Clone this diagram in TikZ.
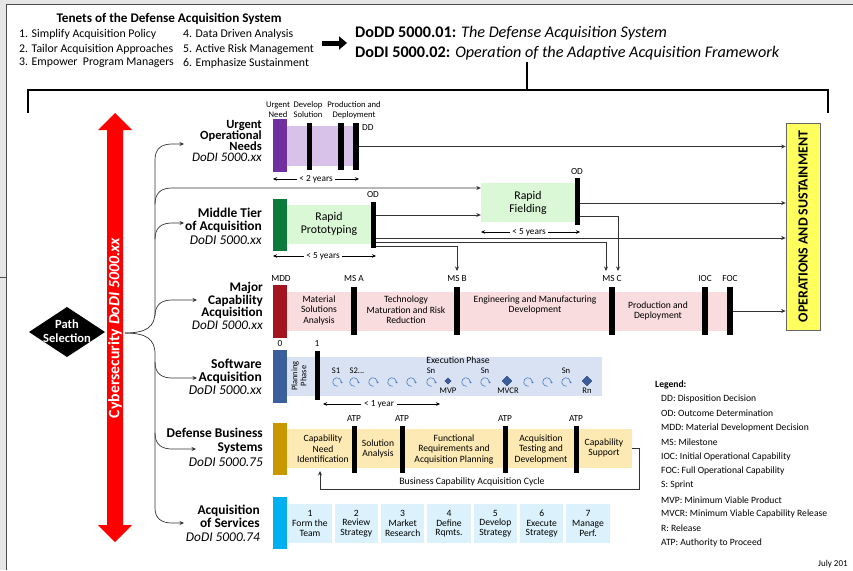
\documentclass[tikz,border=0pt]{standalone}
\usepackage{fontspec}
\setmainfont{Carlito}
\usetikzlibrary{arrows.meta,shapes.geometric,fit,calc}

\definecolor{uonpurple}{HTML}{7030A0}
\definecolor{uonlight}{HTML}{D9C2EA}
\definecolor{mtagreen}{HTML}{0B7A3B}
\definecolor{mtalight}{HTML}{DAF8D6}
\definecolor{mcared}{HTML}{A3141F}
\definecolor{mcalight}{HTML}{F9DCDD}
\definecolor{swblue}{HTML}{3A5F9C}
\definecolor{swlight}{HTML}{D9E2F2}
\definecolor{dbsgold}{HTML}{C99700}
\definecolor{dbslight}{HTML}{FDE9B3}
\definecolor{svccyan}{HTML}{00B0F0}
\definecolor{svclight}{HTML}{DBF2FC}
\definecolor{osyellow}{HTML}{FFFF5E}
\definecolor{sprintblue}{HTML}{4A7CC4}
\definecolor{framegray}{HTML}{E6E6E6}

\tikzset{
  conn/.style={draw=black!80, line width=0.7pt},
  tip/.style={-{Stealth[length=4.5pt,width=4pt]}},
  spanarrow/.style={draw=black, line width=0.6pt,
    {Stealth[length=4pt,width=3.5pt]}-{Stealth[length=4pt,width=3.5pt]}},
  lbl/.style={font=\fontsize{9.3}{10.5}\selectfont, inner sep=0pt, align=center},
  toplbl/.style={font=\fontsize{8.6}{10}\selectfont, inner sep=0pt, align=center},
  sprintlbl/.style={font=\fontsize{8.6}{9}\selectfont, inner sep=0pt},
  bandtxt/.style={font=\fontsize{9.6}{10.5}\selectfont, align=center, inner sep=0pt},
  rowlbl/.style={anchor=east, align=right, inner sep=0pt},
  gate/.style={fill=black, inner sep=0pt},
  tall/.style={inner sep=0pt},
  legendtxt/.style={anchor=west, font=\fontsize{9.6}{11}\selectfont, inner sep=0pt},
  tenet/.style={anchor=west, font=\fontsize{11.8}{13}\selectfont, inner sep=0pt},
  sprintarc/.style={draw=sprintblue, line width=0.6pt, -{Stealth[length=2pt,width=2.6pt]}},
  milestone/.style={diamond, fill=swblue, draw=swblue!70!black, inner sep=0pt},
}

\begin{document}
\begin{tikzpicture}[x=1pt,y=-1pt]
\useasboundingbox (0,0) rectangle (853,570);

% window frame
\fill[framegray] (0,0) rectangle (853,570);
\fill[white] (6,4) rectangle (853,570);
\draw[black!70, line width=0.8pt] (6,570) -- (6,4) -- (853,4);
\draw[black!70, line width=0.6pt] (0,277) -- (6,277);

% tenets
\node[font=\fontsize{13.2}{15}\selectfont\bfseries, inner sep=0pt] (tenets) at (169,19) {Tenets of the Defense Acquisition System};
\node[tenet] (t1) at (19,34) {1. Simplify Acquisition Policy};
\node[tenet] (t2) at (19,49) {2. Tailor Acquisition Approaches};
\node[tenet] (t3) at (19,63) {3. Empower \ Program Managers};
\node[tenet] (t4) at (183,34) {4. Data Driven Analysis};
\node[tenet] (t5) at (183,49) {5. Active Risk Management};
\node[tenet] (t6) at (183,63) {6. Emphasize Sustainment};

\coordinate (bigarrowA) at (322,43);
\coordinate (bigarrowB) at (347,43);
\draw[line width=5pt, -{Triangle[length=8pt,width=13pt]}] (bigarrowA) -- (bigarrowB);

\node[anchor=west, font=\fontsize{16.2}{18}\selectfont, inner sep=0pt] (dodd) at (355,33) {\textbf{DoDD 5000.01:} \textit{The Defense Acquisition System}};
\node[anchor=west, font=\fontsize{16.2}{18}\selectfont, inner sep=0pt] (dodi) at (355,53) {\textbf{DoDI 5000.02:} \textit{Operation of the Adaptive Acquisition Framework}};

% bracket over all pathways
\coordinate (stemtop) at (527,62);
\coordinate (stembot) at (527,90);
\draw[line width=1.3pt] (stemtop) -- (stembot);
\draw[line width=1.3pt] (28,113) -- (28,90) -- (828,90) -- (828,113);

% cybersecurity double arrow
\fill[red] (115,113) -- (132,130) -- (123,130) -- (123,525) -- (132,525) -- (115,542)
  -- (98,525) -- (107,525) -- (107,130) -- (98,130) -- cycle;
\node[rotate=90, text=white, font=\fontsize{15.8}{17}\selectfont\bfseries, inner sep=0pt] (cyber) at (115,328) {Cybersecurity \textit{DoDI 5000.xx}};

% path selection
\fill[black] (29,332) -- (67,307) -- (105,332) -- (67,357) -- cycle;
\node[text=white, font=\fontsize{12.5}{14.5}\selectfont\bfseries, align=center, inner sep=0pt] (pathsel) at (67,331) {Path\\Selection};

% operations and sustainment
\node[fit={(786,123) (820,330)}, fill=osyellow, draw=black!60, line width=0.8pt, inner sep=0pt] (os) {};
\node[rotate=90, font=\fontsize{13.9}{15}\selectfont\bfseries, inner sep=0pt] (ostext) at (os.center) {OPERATIONS AND SUSTAINMENT};

% ---------- Urgent Operational Needs ----------
\node[rowlbl, font=\fontsize{12.5}{11.3}\selectfont\bfseries] (uonlbl) at (262,141) {Urgent\\Operational\\Needs\\{\mdseries\itshape\fontsize{13}{11.3}\selectfont DoDI 5000.xx}};
\fill[uonlight] (287,126) rectangle (356,166);
\node[tall, fill=uonpurple, fit={(273,119) (287,172)}] (uonbar) {};
\node[gate, fit={(307,123) (312,170)}] (uonsol) {};
\node[gate, fit={(338,123) (344,170)}] (uonprod) {};
\node[gate, fit={(353,123) (359,170)}] (dd) {};
\node[toplbl] (lurg) at (278,110) {Urgent\\Need};
\node[toplbl] (ldev) at (308,110) {Develop\\Solution};
\node[toplbl] (lprod) at (354,110) {Production and\\Deployment};
\node[lbl, anchor=west] (ddlbl) at (362,128) {DD};
\coordinate (uonspanA) at (273,179);
\coordinate (uonspanB) at (359,179);
\draw[spanarrow] (uonspanA) -- (uonspanB);
\node[lbl, fill=white, inner xsep=2pt, inner ysep=1pt] (uonspan) at (316,179) {< 2 years};

% ---------- Middle Tier of Acquisition ----------
\node[rowlbl, font=\fontsize{13.4}{13.5}\selectfont\bfseries] (mtalbl) at (262,226) {Middle Tier\\of Acquisition\\{\mdseries\itshape DoDI 5000.xx}};
\fill[mtalight] (287,205) rectangle (371,244);
\node[tall, fill=mtagreen, fit={(273,199) (287,251)}] (mtabar) {};
\node[bandtxt, font=\fontsize{11.8}{13}\selectfont] (rptxt) at (329,224) {Rapid\\Prototyping};
\node[gate, fit={(371,202) (376,248)}] (odrp) {};
\node[lbl] (odrplbl) at (373,195) {OD};
\coordinate (rpspanA) at (273,256);
\coordinate (rpspanB) at (376,256);
\draw[spanarrow] (rpspanA) -- (rpspanB);
\node[lbl, fill=white, inner xsep=2pt, inner ysep=1pt] (rpspan) at (323,256) {< 5 years};

\node[fit={(481,183) (575,222)}, fill=mtalight, inner sep=0pt] (rf) {};
\node[bandtxt, font=\fontsize{11.8}{13}\selectfont] (rftxt) at (rf.center) {Rapid\\Fielding};
\node[gate, fit={(575,178) (580,225)}] (odrf) {};
\node[lbl] (odrflbl) at (577,172) {OD};
\coordinate (rfspanA) at (481,232);
\coordinate (rfspanB) at (580,232);
\draw[spanarrow] (rfspanA) -- (rfspanB);
\node[lbl, fill=white, inner xsep=2pt, inner ysep=1pt] (rfspan) at (529,232) {< 5 years};

% ---------- Major Capability Acquisition ----------
\node[rowlbl, font=\fontsize{13.2}{12.7}\selectfont\bfseries] (mcalbl) at (263,306) {Major\\Capability\\Acquisition\\{\mdseries\itshape DoDI 5000.xx}};
\fill[mcalight] (287,292) rectangle (733,331);
\node[tall, fill=mcared, fit={(273,285) (287,338)}] (mcabar) {};
\node[gate, fit={(351,287) (357,335)}] (msa) {};
\node[gate, fit={(454,287) (460,335)}] (msb) {};
\node[gate, fit={(609,287) (615,335)}] (msc) {};
\node[gate, fit={(702,287) (708,335)}] (ioc) {};
\node[gate, fit={(727,287) (733,335)}] (foc) {};
\node[lbl] (mddlbl) at (281,279) {MDD};
\node[lbl] (msalbl) at (354,279) {MS A};
\node[lbl] (msblbl) at (457,279) {MS B};
\node[lbl] (msclbl) at (612,279) {MS C};
\node[lbl] (ioclbl) at (705,279) {IOC};
\node[lbl] (foclbl) at (730,279) {FOC};
\node[bandtxt] (msatxt) at (319,310) {Material\\Solutions\\Analysis};
\node[bandtxt] (tmrrtxt) at (406,310) {Technology\\Maturation and Risk\\Reduction};
\node[bandtxt] (emdtxt) at (535,305) {Engineering and Manufacturing\\Development};
\node[bandtxt] (pdtxt) at (658,311) {Production and\\Deployment};

% ---------- Software Acquisition ----------
\node[rowlbl, font=\fontsize{13.6}{13}\selectfont\bfseries] (swlbl) at (262,377) {Software\\Acquisition\\{\mdseries\itshape DoDI 5000.xx}};
\fill[swlight] (287,357) rectangle (602,396);
\node[tall, fill=swblue, fit={(273,350) (287,403)}] (swbar) {};
\node[gate, fit={(315,351) (320,400)}] (swone) {};
\node[lbl] (swzero) at (280,344) {0};
\node[lbl] (swonelbl) at (317,344) {1};
\node[lbl, rotate=90, font=\fontsize{8.5}{9}\selectfont] (planning) at (299,376) {Planning\\Phase};
\node[lbl, font=\fontsize{9.6}{10}\selectfont] (exec) at (458,360) {Execution Phase};
\foreach \sx [count=\si] in {337,354,373,392,411,431,466,485,528,547,566}{
  \draw[sprintarc] (\sx,382) ++(80:4.3) arc[start angle=80, end angle=380, radius=4.3];
}
\node[milestone, minimum size=6.5pt] (mvp) at (448,381) {};
\node[milestone, minimum size=10pt] (mvcr) at (507,381) {};
\node[milestone, minimum size=10pt] (rn) at (587,381) {};
\node[sprintlbl] (s1) at (336,370.5) {S1};
\node[sprintlbl] (s2) at (357,370.5) {S2...};
\node[sprintlbl] (sn1) at (431,370.5) {Sn};
\node[sprintlbl] (sn2) at (485,370.5) {Sn};
\node[sprintlbl] (sn3) at (566,370.5) {Sn};
\node[sprintlbl] (mvplbl) at (448,390.5) {MVP};
\node[sprintlbl] (mvcrlbl) at (508,390.5) {MVCR};
\node[sprintlbl] (rnlbl) at (587,390.5) {Rn};
\coordinate (swspanA) at (323,404);
\coordinate (swspanB) at (440,404);
\draw[spanarrow] (swspanA) -- (swspanB);
\node[lbl, fill=white, inner xsep=3pt, inner ysep=1pt] (swspan) at (379,404) {< 1 year};

% ---------- Defense Business Systems ----------
\node[rowlbl, font=\fontsize{13.4}{14.5}\selectfont\bfseries] (dbslbl) at (263,447) {Defense Business\\Systems\\{\mdseries\itshape DoDI 5000.75}};
\node[fit={(287,429) (632,468)}, fill=dbslight, inner sep=0pt] (dbsband) {};
\node[tall, fill=dbsgold, fit={(273,423) (287,475)}] (dbsbar) {};
\node[gate, fit={(352,426) (357,473)}] (atp1) {};
\node[gate, fit={(400,426) (405,473)}] (atp2) {};
\node[gate, fit={(503,426) (508,473)}] (atp3) {};
\node[gate, fit={(574,426) (579,473)}] (atp4) {};
\node[lbl] (atp1lbl) at (354,419) {ATP};
\node[lbl] (atp2lbl) at (402,419) {ATP};
\node[lbl] (atp3lbl) at (505,419) {ATP};
\node[lbl] (atp4lbl) at (576,419) {ATP};
\node[bandtxt] (cnitxt) at (323,449) {Capability\\Need\\Identification};
\node[bandtxt] (satxt) at (378,449) {Solution\\Analysis};
\node[bandtxt] (fratxt) at (454,449) {Functional\\Requirements and\\Acquisition Planning};
\node[bandtxt] (atdtxt) at (541,449) {Acquisition\\Testing and\\Development};
\node[bandtxt] (cstxt) at (604,448) {Capability\\Support};
\coordinate (cycleend) at (320,471);
\draw[conn, line width=0.6pt, tip] (dbsband.east) -- ++(7,0) |- (320,489) -- (cycleend);
\node[lbl, font=\fontsize{9.8}{11}\selectfont] (cyclelbl) at (472,482) {Business Capability Acquisition Cycle};

% ---------- Acquisition of Services ----------
\node[rowlbl, font=\fontsize{13.4}{13.5}\selectfont\bfseries] (svclbl) at (260,523) {Acquisition\\of Services\\{\mdseries\itshape DoDI 5000.74}};
\node[tall, fill=svccyan, fit={(273,497) (287,549)}] (svcbar) {};
\foreach \st [count=\si from 0] in {{1\\Form the\\Team},{2\\Review\\Strategy},{3\\Market\\Research},{4\\Define\\Rqmts.},{5\\Develop\\Strategy},{6\\Execute\\Strategy},{7\\Manage\\Perf.}}{
  \node[fill=svclight, inner sep=0pt, minimum width=43.5pt, minimum height=39pt,
        bandtxt, font=\fontsize{9.6}{9.8}\selectfont, anchor=north west]
        (svc\si) at ({288+46.35*\si},504) {\st};
}

% ---------- legend ----------
\node[legendtxt, font=\fontsize{9.6}{11}\selectfont\bfseries] (legend) at (655,385) {Legend:};
\foreach \lt [count=\li from 0] in {DD: Disposition Decision, OD: Outcome Determination,
  MDD: Material Development Decision, MS: Milestone, IOC: Initial Operational Capability,
  FOC: Full Operational Capability, S: Sprint, MVP: Minimum Viable Product,
  MVCR: Minimum Viable Capability Release, R: Release, ATP: Authority to Proceed}{
  \node[legendtxt] (leg\li) at (661,{399+14.4*\li}) {\lt};
}
\node[anchor=west, font=\fontsize{9}{10}\selectfont, inner sep=0pt] (date) at (818,564) {July 201};

% ---------- path selection fan-out ----------
\coordinate (junc) at (125,333);
\coordinate (uontip) at (184,144);
\coordinate (mtatip) at (184,223);
\coordinate (mcatip) at (197,300);
\coordinate (swtip) at (197,378);
\coordinate (dbstip) at (196,449);
\coordinate (svctip) at (184,523);
\draw[conn] (junc) .. controls (146,333) and (155,327) .. (155,312) -- (155,160);
\draw[conn] (junc) .. controls (146,333) and (155,339) .. (155,354) -- (155,508);
\draw[conn, tip] (155,160) .. controls (155,149) and (161,144) .. (172,144) -- (uontip);
\draw[conn, tip] (155,204) .. controls (155,193) and (161,188) .. (172,188) -- (rf.west |- 0,188);
\draw[conn, tip] (155,239) .. controls (155,228) and (161,223) .. (172,223) -- (mtatip);
\draw[conn, tip] (155,316) .. controls (155,305) and (161,300) .. (172,300) -- (mcatip);
\draw[conn, tip] (155,362) .. controls (155,373) and (161,378) .. (172,378) -- (swtip);
\draw[conn, tip] (155,433) .. controls (155,444) and (161,449) .. (172,449) -- (dbstip);
\draw[conn, tip] (155,508) .. controls (155,518) and (161,523) .. (172,523) -- (svctip);

% ---------- transitions ----------
\coordinate (msbtip) at (457,271);
\coordinate (msctipA) at (606,271);
\coordinate (msctipB) at (618,271);
\draw[conn, tip] (dd.east) -- (dd.east -| os.west);
\draw[conn, tip] (odrp.east |- 0,215) -- (rf.west |- 0,215);
\draw[conn, tip] (odrf.east |- 0,203) -- (os.west |- 0,203);
\draw[conn, tip] (odrf.east |- 0,216) -| (msctipB);
\draw[conn, tip] (odrp.east |- 0,238) -- (os.west |- 0,238);
\draw[conn, tip] (odrp.east |- 0,242) -| (msctipA);
\draw[conn, tip] (odrp.east |- 0,246) -| (msbtip);
\draw[conn, tip] (foc.east) -- (foc.east -| os.west);

\end{tikzpicture}
\end{document}
